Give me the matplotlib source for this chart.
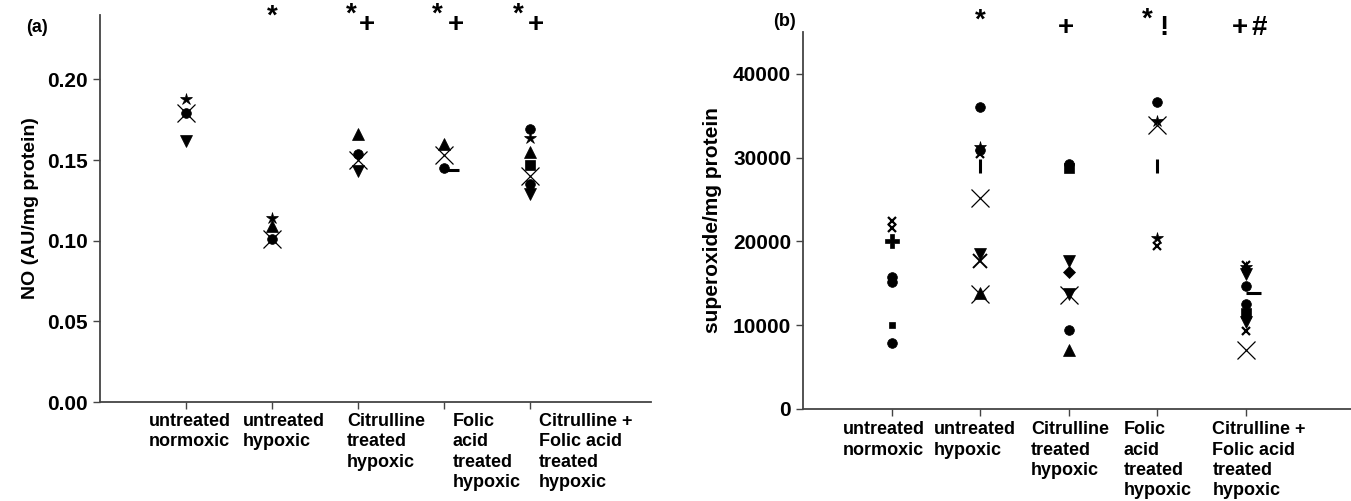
import matplotlib.pyplot as plt
from matplotlib.markers import TICKRIGHT

plt.rcParams['font.family'] = ['Liberation Sans', 'DejaVu Sans']

categories = ['untreated\nnormoxic', 'untreated\nhypoxic', 'Citrulline\ntreated\nhypoxic',
              'Folic\nacid\ntreated\nhypoxic', 'Citrulline +\nFolic acid\ntreated\nhypoxic']

# panel (a): NO per group, marker kind for each point
no_group = [1, 1, 1, 1,
            2, 2, 2, 2,
            3, 3, 3, 3,
            4, 4, 4, 4,
            5, 5, 5, 5, 5, 5, 5]
no_value = [0.188, 0.179, 0.179, 0.162,
            0.114, 0.109, 0.101, 0.101,
            0.166, 0.154, 0.150, 0.143,
            0.160, 0.153, 0.145, 0.144,
            0.169, 0.164, 0.155, 0.147, 0.140, 0.135, 0.129]
no_kind = ['star', 'circle', 'bigx', 'down',
           'star', 'up', 'circle', 'bigx',
           'up', 'circle', 'bigx', 'down',
           'up', 'bigx', 'circle', 'dash',
           'circle', 'star', 'up', 'square', 'bigx', 'circle', 'down']
# significance signs above each group: (text, dx pt, dy pt)
no_marks = [[], [('*', 0, -1)], [('*', -5, 0), ('+', 6, -7)],
            [('*', -5, 0), ('+', 8, -7)], [('*', -9, 0), ('+', 4, -7)]]

# panel (b): superoxide
so_group = [1, 1, 1, 1, 1, 1, 1,
            2, 2, 2, 2, 2, 2, 2, 2, 2, 2,
            3, 3, 3, 3, 3, 3, 3, 3,
            4, 4, 4, 4, 4, 4,
            5, 5, 5, 5, 5, 5, 5, 5, 5, 5, 5]
so_value = [22400, 21600, 20000, 15700, 15100, 10000, 7900,
            36050, 31300, 30900, 30400, 28950, 25200, 18500, 17700, 13900, 13750,
            29250, 28750, 17700, 16300, 13750, 13550, 9400, 7100,
            36600, 34400, 33900, 29050, 20400, 19500,
            17200, 16900, 16100, 14650, 13800, 12500, 11400, 10400, 9300, 7000]
so_kind = ['smallx', 'smallx', 'plus', 'circle', 'circle', 'dot', 'circle',
           'circle', 'star', 'circle', 'smallx', 'vbar', 'bigx', 'down', 'midx', 'up', 'bigx',
           'circle', 'square', 'down', 'diamond', 'down', 'bigx', 'circle', 'up',
           'circle', 'star', 'bigx', 'vbar', 'star', 'smallx',
           'smallx', 'star', 'down', 'circle', 'dash', 'circle', 'square', 'down', 'smallx', 'bigx']
so_marks = [[], [('*', 0, 8)], [('+', -2, 3)],
            [('*', -7, 9), ('!', 5, 3)], [('+', -4, 3), ('#', 10, 3)]]

STYLE = {
    'circle': dict(marker='o', ms=7),
    'star': dict(marker='*', ms=9),
    'down': dict(marker='v', ms=8),
    'up': dict(marker='^', ms=8),
    'square': dict(marker='s', ms=6.5),
    'diamond': dict(marker='D', ms=6),
    'plus': dict(marker='P', ms=10),
    'dot': dict(marker='s', ms=4),
    'vbar': dict(marker='|', ms=10, mew=2.2),
    'dash': dict(marker=TICKRIGHT, ms=11, mew=2.2),
    'bigx': dict(marker='x', ms=13, mew=0.9),
    'midx': dict(marker='x', ms=10, mew=1.4),
    'smallx': dict(marker='x', ms=6, mew=1.6),
}

# label x offsets in points relative to the tick (text is left aligned)
label_dx_a = [-27, -21, -8, 6, 6]
label_dx_b = [-35, -33, -27, -24, -24]


def draw_points(ax, groups, values, kinds):
    for g, v, k in zip(groups, values, kinds):
        st = STYLE[k]
        ax.plot([g], [v], linestyle='none', marker=st['marker'], markersize=st['ms'],
                markeredgewidth=st.get('mew', 0.5), color='black', clip_on=False)


def setup_axes(ax, dx_list, dy):
    for side in ['top', 'right']:
        ax.spines[side].set_visible(False)
    for side in ['left', 'bottom']:
        ax.spines[side].set_color('#444444')
        ax.spines[side].set_linewidth(1.3)
    ax.tick_params(axis='both', direction='out', length=5, width=1, color='#444444',
                   labelsize=15)
    ax.set_xticks(range(1, 6))
    ax.set_xticklabels([])
    for lab in ax.get_yticklabels():
        lab.set_fontweight('bold')
    for i, (cat, dx) in enumerate(zip(categories, dx_list)):
        ax.annotate(cat, xy=(i + 1, 0), xycoords=('data', 'axes fraction'),
                    xytext=(dx, dy), textcoords='offset points', ha='left', va='top',
                    fontsize=13, fontweight='bold', linespacing=1.25, annotation_clip=False)


def sig_marks(ax, marks, size):
    for i, group in enumerate(marks):
        for txt, dx, dy in group:
            ax.annotate(txt, xy=(i + 1, 1), xycoords=('data', 'axes fraction'),
                        xytext=(dx, dy), textcoords='offset points', ha='center',
                        va='center', fontsize=size, fontweight='bold', annotation_clip=False)


fig = plt.figure(figsize=(13.51, 5.01), dpi=100)

ax1 = fig.add_axes([100 / 1351, 99 / 501, 551 / 1351, 387 / 501])
draw_points(ax1, no_group, no_value, no_kind)
ax1.set_xlim(0, 6.4)
ax1.set_ylim(0, 0.24)
ax1.set_yticks([0, 0.05, 0.10, 0.15, 0.20])
ax1.set_yticklabels(['0.00', '0.05', '0.10', '0.15', '0.20'])
setup_axes(ax1, label_dx_a, -8)
ax1.set_ylabel('NO (AU/mg protein)', fontsize=14, fontweight='bold', labelpad=6)
sig_marks(ax1, no_marks, 20)
fig.text(37 / 1351, 1 - 27 / 501, '(a)', fontsize=13, fontweight='bold', ha='center', va='center')

ax2 = fig.add_axes([803 / 1351, 92 / 501, 548 / 1351, 377 / 501])
draw_points(ax2, so_group, so_value, so_kind)
ax2.set_xlim(0, 6.19)
ax2.set_ylim(0, 45000)
ax2.set_yticks([0, 10000, 20000, 30000, 40000])
setup_axes(ax2, label_dx_b, -9)
ax2.set_ylabel('superoxide/mg protein', fontsize=15, fontweight='bold', labelpad=8)
sig_marks(ax2, so_marks, 20)
fig.text(785 / 1351, 1 - 22 / 501, '(b)', fontsize=13, fontweight='bold', ha='center', va='center')

fig.savefig('out.png', dpi=100)
